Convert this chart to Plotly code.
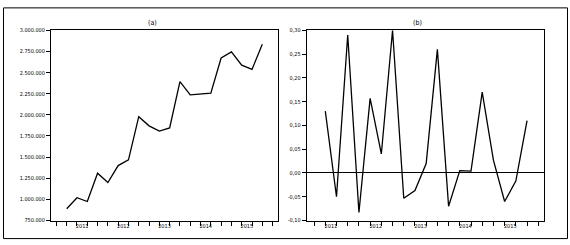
import plotly.graph_objects as go

# ---------------- data ----------------
quarters = ["2011Q1", "2011Q2", "2011Q3", "2011Q4",
            "2012Q1", "2012Q2", "2012Q3", "2012Q4",
            "2013Q1", "2013Q2", "2013Q3", "2013Q4",
            "2014Q1", "2014Q2", "2014Q3", "2014Q4",
            "2015Q1", "2015Q2", "2015Q3", "2015Q4"]
years = ["2011", "2012", "2013", "2014", "2015"]

level = [890000, 1020000, 975000, 1310000,
         1200000, 1400000, 1468000, 1978000,
         1870000, 1808000, 1845000, 2394000,
         2237000, 2247000, 2256000, 2672000,
         2745000, 2588000, 2538000, 2836000]

growth = [None, 0.130, -0.050, 0.290,
          -0.083, 0.157, 0.040, 0.300,
          -0.053, -0.037, 0.020, 0.260,
          -0.070, 0.005, 0.004, 0.170,
          0.027, -0.060, -0.017, 0.110]

level_ticks = [750000, 1000000, 1250000, 1500000, 1750000,
               2000000, 2250000, 2500000, 2750000, 3000000]
level_ticktext = ["750.000", "1.000.000", "1.250.000", "1.500.000", "1.750.000",
                  "2.000.000", "2.250.000", "2.500.000", "2.750.000", "3.000.000"]
growth_ticks = [-0.10, -0.05, 0.00, 0.05, 0.10, 0.15, 0.20, 0.25, 0.30]
growth_ticktext = ["-0,10", "-0,05", "0,00", "0,05", "0,10", "0,15", "0,20", "0,25", "0,30"]

titles = ["(a)", "(b)"]

# ---------------- figure ----------------
W, H = 570, 245
FONT = "Liberation Sans Narrow, DejaVu Sans Condensed, Arial Narrow, sans-serif"

idx = list(range(len(quarters)))
year_pos = [sum(i for i, q in enumerate(quarters) if q.startswith(y)) /
            sum(1 for q in quarters if q.startswith(y)) for y in years]

fig = go.Figure()
fig.add_trace(go.Scatter(x=idx, y=level, mode="lines", customdata=quarters,
                         line=dict(color="black", width=1.3),
                         xaxis="x", yaxis="y", showlegend=False))
fig.add_trace(go.Scatter(x=idx, y=growth, mode="lines", customdata=quarters,
                         line=dict(color="black", width=1.3),
                         xaxis="x2", yaxis="y2", showlegend=False))

def px_x(p):
    return p / W

def px_y(p):
    return 1 - p / H

TICKFONT = dict(family=FONT, size=5.5, color="black")

common_x = dict(
    showline=True, linecolor="black", linewidth=1, mirror=True,
    showgrid=False, zeroline=False,
    tickmode="array", tickvals=year_pos, ticktext=years,
    ticks="outside", ticklen=0, tickcolor="rgba(0,0,0,0)",
    tickfont=TICKFONT,
    minor=dict(tickmode="linear", tick0=0, dtick=1, ticks="outside",
               ticklen=4, tickcolor="black", tickwidth=1, showgrid=False),
)
common_y = dict(
    showline=True, linecolor="black", linewidth=1, mirror=True,
    showgrid=False, tickmode="array",
    ticks="outside", ticklen=4, tickcolor="black", tickwidth=1,
    tickfont=TICKFONT,
)

fig.update_layout(
    width=W, height=H,
    margin=dict(l=0, r=0, t=0, b=0),
    paper_bgcolor="white", plot_bgcolor="white",
    xaxis=dict(common_x, domain=[px_x(51), px_x(278)], range=[-1.525, 20.525],
               anchor="y"),
    yaxis=dict(common_y, domain=[px_y(223), px_y(28)], range=[750000, 3000000],
               tickvals=level_ticks, ticktext=level_ticktext, zeroline=False,
               anchor="x"),
    xaxis2=dict(common_x, domain=[px_x(306.7), px_x(544.3)], range=[-0.66, 20.54],
                anchor="y2"),
    yaxis2=dict(common_y, domain=[px_y(223), px_y(28)], range=[-0.10, 0.30],
                tickvals=growth_ticks, ticktext=growth_ticktext,
                zeroline=True, zerolinecolor="black", zerolinewidth=1,
                anchor="x2"),
    shapes=[dict(type="rect", xref="paper", yref="paper",
                 x0=px_x(3.5), x1=px_x(567.5), y0=px_y(241.5), y1=px_y(5),
                 line=dict(color="black", width=1), fillcolor="rgba(0,0,0,0)")],
    annotations=[
        dict(text=titles[0], xref="paper", yref="paper", x=px_x(152), y=px_y(20.5),
             showarrow=False, xanchor="center", yanchor="middle",
             font=dict(family=FONT, size=7, color="black")),
        dict(text=titles[1], xref="paper", yref="paper", x=px_x(418), y=px_y(20.5),
             showarrow=False, xanchor="center", yanchor="middle",
             font=dict(family=FONT, size=7, color="black")),
    ],
)

fig.write_html("out.html", config={"displayModeBar": False})

# remove the default page margin so the figure sits at the window origin
with open("out.html", "r", encoding="utf-8") as f:
    html = f.read()
html = html.replace("<body>", '<body style="margin:0;padding:0;overflow:hidden">', 1)
with open("out.html", "w", encoding="utf-8") as f:
    f.write(html)
